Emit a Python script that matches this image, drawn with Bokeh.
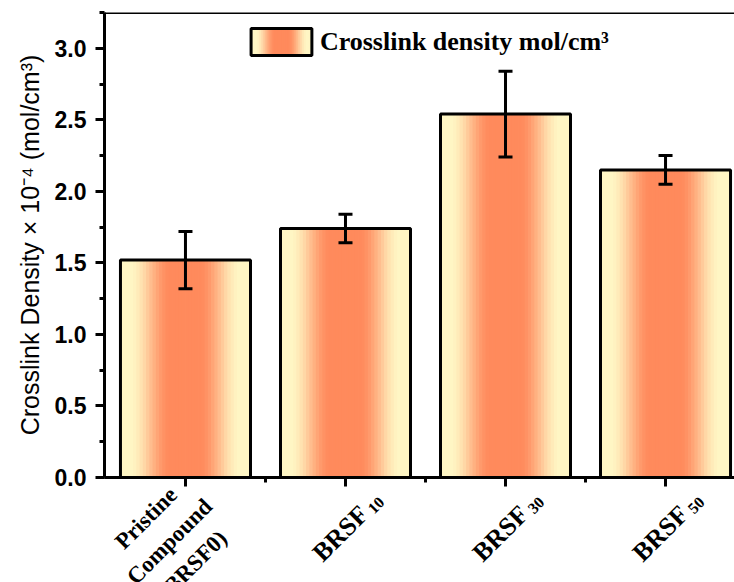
import math
import numpy as np
from bokeh.plotting import figure
from bokeh.layouts import column
from bokeh.models import (Range1d, FixedTicker, PrintfTickFormatter, ColumnDataSource,
                          Whisker, TeeHead, Span, Label)
from bokeh.embed import file_html
from bokeh.resources import INLINE
from bokeh.core.properties import value

# ---------------- data ----------------
category_main = [["Pristine", "Compound", "(BRSF0)"], ["BRSF"], ["BRSF"], ["BRSF"]]
category_subs = ["", "10", "30", "50"]
positions = [1, 2, 3, 4]
crosslink = [1.52, 1.74, 2.54, 2.15]
errors = [0.20, 0.10, 0.30, 0.10]
y_ticks = [0.0, 0.5, 1.0, 1.5, 2.0, 2.5, 3.0]
y_minor = [0.25 * i for i in range(14)]
x_minor = [1.5, 2.5, 3.5]
legend_label = "Crosslink density mol/cm\u00b3"
y_label = "Crosslink Density \u00d7 10\u207b\u2074 (mol/cm\u00b3)"

# ---------------- style ----------------
W = 734
FRAME_LEFT = 104
FRAME_TOP = 12
FRAME_BOTTOM = 477
TOP_H = 487            # height of the main figure (axis ticks fit below frame)
LABEL_H = 582 - TOP_H  # strip holding the rotated category labels
X0, X1 = 0.494, 4.431
PX_PER_UNIT = (W - FRAME_LEFT) / (X1 - X0)
BAR_W = 0.8125
N_STRIPS = 40
CENTER_RGB = np.array([255, 138, 92])
EDGE_RGB = np.array([255, 246, 196])
LAB_FS = 26.0
BLOCK_FS = 23.0
SUB_FS = 16.0


def grad_color(t):
    d = abs(t - 0.5) * 2.0
    s = np.clip((d - 0.22) / (0.85 - 0.22), 0, 1)
    s = s * s * (3 - 2 * s)
    c = CENTER_RGB * (1 - s) + EDGE_RGB * s
    return "#%02x%02x%02x" % tuple(int(round(v)) for v in c)


p = figure(width=W, height=TOP_H, x_range=Range1d(X0, X1), y_range=Range1d(0, 3.25),
           output_backend="svg", toolbar_location=None,
           min_border_left=FRAME_LEFT, min_border_right=0, min_border_top=FRAME_TOP,
           min_border_bottom=TOP_H - FRAME_BOTTOM)
p.outline_line_color = None
p.grid.visible = False
p.background_fill_color = "white"
p.border_fill_color = "white"

# gradient bars made of thin strips
sx, stop, sw, sc = [], [], [], []
for pos, v in zip(positions, crosslink):
    for j in range(N_STRIPS):
        t = (j + 0.5) / N_STRIPS
        sx.append(pos + (t - 0.5) * BAR_W)
        stop.append(v)
        sw.append(BAR_W / N_STRIPS * 1.25)
        sc.append(grad_color(t))
p.vbar(x=sx, top=stop, width=sw, bottom=0, fill_color=sc, line_color=None)
p.vbar(x=positions, top=crosslink, width=BAR_W, bottom=0, fill_color=None,
       line_color="black", line_width=3)

# error bars
err_src = ColumnDataSource(dict(x=positions,
                                upper=[v + e for v, e in zip(crosslink, errors)],
                                lower=[v - e for v, e in zip(crosslink, errors)]))
wh = Whisker(source=err_src, base="x", upper="upper", lower="lower",
             line_color="black", line_width=3,
             upper_head=TeeHead(size=14, line_color="black", line_width=3),
             lower_head=TeeHead(size=14, line_color="black", line_width=3))
wh.level = "overlay"
p.add_layout(wh)

# top frame line
p.add_layout(Span(location=3.25, dimension="width", line_color="black", line_width=3))

# axes
ya = p.yaxis[0]
ya.ticker = FixedTicker(ticks=y_ticks, minor_ticks=y_minor)
ya.formatter = PrintfTickFormatter(format="%.1f")
ya.axis_line_width = 3
ya.major_tick_line_width = 3
ya.minor_tick_line_width = 3
ya.major_tick_in = 0
ya.major_tick_out = 9
ya.minor_tick_in = 0
ya.minor_tick_out = 5
ya.major_label_text_font = "Liberation Sans"
ya.major_label_text_font_style = "bold"
ya.major_label_text_font_size = "23px"
ya.major_label_text_color = "black"
ya.major_label_standoff = 9
ya.axis_label = y_label
ya.axis_label_text_font = "Liberation Sans"
ya.axis_label_text_font_style = "normal"
ya.axis_label_text_font_size = "25px"
ya.axis_label_text_color = "black"
ya.axis_label_standoff = 8

xa = p.xaxis[0]
xa.ticker = FixedTicker(ticks=positions, minor_ticks=x_minor)
xa.axis_line_width = 3
xa.major_tick_line_width = 3
xa.minor_tick_line_width = 3
xa.major_tick_in = 0
xa.major_tick_out = 9
xa.minor_tick_in = 0
xa.minor_tick_out = 5
xa.major_label_overrides = {pos: "" for pos in positions}

# legend (gradient swatch + text)
LEG_X0, LEG_X1, LEG_Y0, LEG_Y1 = 1.41, 1.79, 2.949, 3.138
qs_l, qs_r, qs_c = [], [], []
NL = 30
for j in range(NL):
    t0 = j / NL
    t1 = (j + 1) / NL
    qs_l.append(LEG_X0 + t0 * (LEG_X1 - LEG_X0))
    qs_r.append(LEG_X0 + min(1.0, t1 + 0.3 / NL) * (LEG_X1 - LEG_X0))
    qs_c.append(grad_color((t0 + t1) / 2))
p.quad(left=qs_l, right=qs_r, bottom=LEG_Y0, top=LEG_Y1, fill_color=qs_c, line_color=None)
p.quad(left=[LEG_X0], right=[LEG_X1], bottom=[LEG_Y0], top=[LEG_Y1], fill_color=None,
       line_color="black", line_width=3)
p.add_layout(Label(x=1.84, y=3.047, text=legend_label, text_font="Liberation Serif",
                   text_font_style="bold", text_font_size="26px", text_color="black",
                   text_baseline="middle", text_align="left"))

# ---------------- category label strip (shares the x scale) ----------------
p2 = figure(width=W, height=LABEL_H, x_range=p.x_range,
            y_range=Range1d(582, TOP_H),   # data y == page pixel row
            output_backend="svg", toolbar_location=None,
            x_axis_location=None, y_axis_location=None,
            min_border_left=FRAME_LEFT, min_border_right=0, min_border_top=0, min_border_bottom=0)
p2.outline_line_color = None
p2.grid.visible = False
p2.background_fill_color = "white"
p2.border_fill_color = "white"

ux, uy = math.cos(math.pi / 4), math.sin(math.pi / 4)
LS = 33.0
GAP = 4.0
DROP = 5.0
bx, by, bt = [], [], []
mx, my, mt, sxl, syl, stl = [], [], [], [], [], []
for pos, lines, sub in zip(positions, category_main, category_subs):
    n = len(lines)
    if n > 1:
        cx, cy = -16.0, 64.0
        for k, txt in enumerate(lines):
            off = (k - (n - 1) / 2.0) * LS
            dx = cx + off * ux
            dy = cy + off * uy
            bx.append(pos + dx / PX_PER_UNIT)
            by.append(FRAME_BOTTOM + dy)
            bt.append(txt)
    else:
        cx, cy = 2.0, 49.0
        w_main = 2.556 * LAB_FS
        w_sub = 0.5 * SUB_FS * len(sub)
        L = w_main + GAP + w_sub
        s_dx = cx - (L / 2) * ux
        s_dy = cy + (L / 2) * uy
        mx.append(pos + (s_dx + (w_main / 2) * ux) / PX_PER_UNIT)
        my.append(FRAME_BOTTOM + s_dy - (w_main / 2) * uy)
        mt.append(lines[0])
        b_dx = s_dx + (w_main + GAP) * ux + DROP * ux
        b_dy = s_dy - (w_main + GAP) * uy + DROP * uy
        sxl.append(pos + b_dx / PX_PER_UNIT)
        syl.append(FRAME_BOTTOM + b_dy)
        stl.append(sub)

p2.text(x=bx, y=by, text=bt, angle=math.pi / 4, text_align="center", text_baseline="middle",
        text_font=value("Liberation Serif"), text_font_style="bold",
        text_font_size="%dpx" % BLOCK_FS, text_color="black")
p2.text(x=mx, y=my, text=mt, angle=math.pi / 4, text_align="center", text_baseline="middle",
        text_font=value("Liberation Serif"), text_font_style="bold",
        text_font_size="%dpx" % LAB_FS, text_color="black")
p2.text(x=sxl, y=syl, text=stl, angle=math.pi / 4, text_align="left", text_baseline="middle",
        text_font=value("Liberation Serif"), text_font_style="bold",
        text_font_size="%dpx" % SUB_FS, text_color="black")

layout = column(p, p2, spacing=0)
open("out.html", "w").write(file_html(layout, INLINE))
